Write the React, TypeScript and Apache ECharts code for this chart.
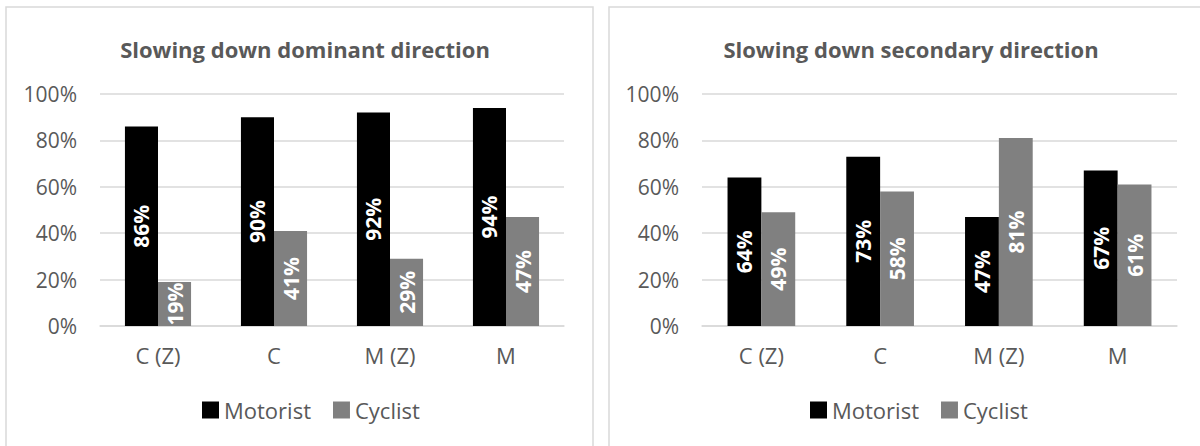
import React, { useEffect, useRef } from "react";
import * as echarts from "echarts";

const categories = ["C (Z)", "C", "M (Z)", "M"];
const seriesNames = ["Motorist", "Cyclist"];
const dominantMotorist = [86, 90, 92, 94];
const dominantCyclist = [19, 41, 29, 47];
const secondaryMotorist = [64, 73, 47, 67];
const secondaryCyclist = [49, 58, 81, 61];
const titles = ["Slowing down dominant direction", "Slowing down secondary direction"];
const yTicks = { min: 0, max: 100, interval: 20 };

const FONT = "'Open Sans', 'Noto Sans', sans-serif";
const TEXT = "#595959";
const GRID = "#d9d9d9";
const COLORS = ["#000000", "#808080"];

function barSeries(name: string, data: number[], idx: number, color: string) {
  return {
    type: "bar",
    name,
    data,
    xAxisIndex: idx,
    yAxisIndex: idx,
    barGap: "0%",
    barCategoryGap: "43%",
    itemStyle: { color },
    label: {
      show: true,
      position: "inside",
      rotate: 90,
      formatter: "{c}%",
      color: "#ffffff",
      fontWeight: "bold",
      fontSize: 21,
      fontFamily: FONT,
    },
  };
}

export default function App() {
  const ref = useRef<HTMLDivElement>(null);

  useEffect(() => {
    document.body.style.margin = "0";
    const chart = echarts.init(ref.current!, undefined, { renderer: "svg" });

    const grids = [
      { left: 100, right: 636, top: 94, bottom: 120 },
      { left: 702, right: 23, top: 94, bottom: 120 },
    ];

    const xAxes = grids.map((_, i) => ({
      type: "category",
      gridIndex: i,
      data: categories,
      axisTick: { show: false },
      axisLine: { show: true, lineStyle: { color: GRID, width: 1.5 } },
      axisLabel: { color: TEXT, fontSize: 22, fontFamily: FONT, margin: 18 },
    }));

    const yAxes = grids.map((_, i) => ({
      type: "value",
      gridIndex: i,
      min: yTicks.min,
      max: yTicks.max,
      interval: yTicks.interval,
      axisLine: { show: false },
      axisTick: { show: false },
      splitLine: { lineStyle: { color: GRID, width: 1.5 } },
      axisLabel: { color: TEXT, fontSize: 21, fontFamily: FONT, margin: 23, formatter: "{value}%" },
    }));

    const titleStyle = { color: TEXT, fontSize: 22, fontWeight: "bold", fontFamily: FONT };
    const legendBase = {
      data: seriesNames,
      top: 394,
      itemWidth: 17,
      itemHeight: 17,
      itemGap: 22,
      icon: "rect",
      textStyle: { color: TEXT, fontSize: 22, fontFamily: FONT },
    };

    chart.setOption({
      animation: false,
      backgroundColor: "#ffffff",
      title: [
        { text: titles[0], left: 300, top: 33, textAlign: "center", textStyle: titleStyle },
        { text: titles[1], left: 906, top: 33, textAlign: "center", textStyle: titleStyle },
      ],
      graphic: [
        {
          type: "rect",
          shape: { x: 6, y: 7, width: 587, height: 460 },
          style: { fill: "none", stroke: GRID, lineWidth: 1.5 },
          silent: true,
          z: -1,
        },
        {
          type: "rect",
          shape: { x: 609, y: 7, width: 600, height: 460 },
          style: { fill: "none", stroke: GRID, lineWidth: 1.5 },
          silent: true,
          z: -1,
        },
      ],
      legend: [
        { ...legendBase, left: 197 },
        { ...legendBase, left: 805 },
      ],
      grid: grids,
      xAxis: xAxes,
      yAxis: yAxes,
      series: [
        barSeries(seriesNames[0], dominantMotorist, 0, COLORS[0]),
        barSeries(seriesNames[1], dominantCyclist, 0, COLORS[1]),
        barSeries(seriesNames[0], secondaryMotorist, 1, COLORS[0]),
        barSeries(seriesNames[1], secondaryCyclist, 1, COLORS[1]),
      ],
    });

    return () => chart.dispose();
  }, []);

  return (
    <div
      ref={ref}
      style={{ position: "absolute", left: 0, top: 0, width: 1200, height: 446, background: "#fff" }}
    />
  );
}
